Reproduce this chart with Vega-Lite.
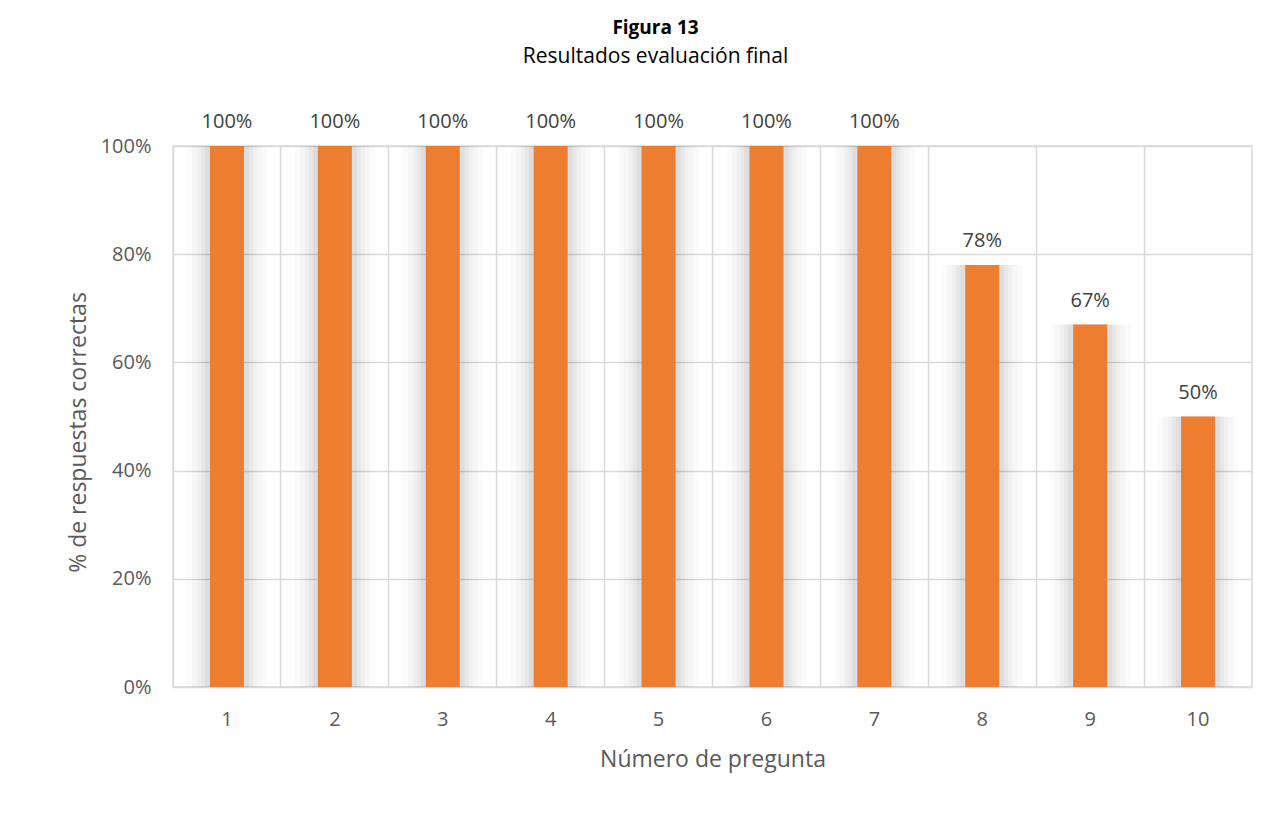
{
  "$schema": "https://vega.github.io/schema/vega-lite/v6.json",
  "width": 1079,
  "height": 541,
  "autosize": {"type": "none"},
  "padding": {"left": 173, "top": 146, "right": 21, "bottom": 135},
  "background": "white",
  "title": {
    "text": "Figura 13",
    "subtitle": "Resultados evaluación final",
    "anchor": "middle",
    "dx": -57,
    "offset": 45,
    "font": "Open Sans",
    "fontSize": 19,
    "fontWeight": "bold",
    "color": "#000000",
    "subtitleFont": "Open Sans",
    "subtitleFontSize": 21,
    "subtitleColor": "#000000",
    "subtitlePadding": 8
  },
  "config": {
    "view": {"stroke": "#d9d9d9", "strokeWidth": 1.5},
    "axis": {
      "labelFont": "Open Sans",
      "titleFont": "Open Sans",
      "labelColor": "#595959",
      "titleColor": "#595959",
      "labelFontSize": 20,
      "titleFontSize": 23,
      "titleFontWeight": "normal",
      "gridColor": "#d9d9d9",
      "gridWidth": 1.5,
      "domain": false,
      "ticks": false
    }
  },
  "data": {
    "values": [
      {"pregunta": "1", "valor": 1.0},
      {"pregunta": "2", "valor": 1.0},
      {"pregunta": "3", "valor": 1.0},
      {"pregunta": "4", "valor": 1.0},
      {"pregunta": "5", "valor": 1.0},
      {"pregunta": "6", "valor": 1.0},
      {"pregunta": "7", "valor": 1.0},
      {"pregunta": "8", "valor": 0.78},
      {"pregunta": "9", "valor": 0.67},
      {"pregunta": "10", "valor": 0.5}
    ]
  },
  "encoding": {
    "x": {
      "field": "pregunta",
      "type": "ordinal",
      "sort": null,
      "scale": {"paddingInner": 0, "paddingOuter": 0},
      "axis": {
        "title": "Número de pregunta",
        "labelAngle": 0,
        "labelPadding": 22,
        "titlePadding": 19,
        "grid": true,
        "bandPosition": 0
      }
    },
    "y": {
      "field": "valor",
      "type": "quantitative",
      "scale": {"domain": [0, 1], "nice": false},
      "axis": {
        "title": "% de respuestas correctas",
        "format": ".0%",
        "values": [0, 0.2, 0.4, 0.6, 0.8, 1.0],
        "labelPadding": 22,
        "titlePadding": 10,
        "titleY": 286
      }
    }
  },
  "layer": [
    {"mark": {"type": "bar", "size": 80, "color": "#000000", "opacity": 0.015}},
    {"mark": {"type": "bar", "size": 70, "color": "#000000", "opacity": 0.02}},
    {"mark": {"type": "bar", "size": 60, "color": "#000000", "opacity": 0.025}},
    {"mark": {"type": "bar", "size": 52, "color": "#000000", "opacity": 0.03}},
    {"mark": {"type": "bar", "size": 44, "color": "#000000", "opacity": 0.04}},
    {"mark": {"type": "bar", "size": 34, "color": "#ED7D31"}},
    {
      "mark": {
        "type": "text",
        "baseline": "bottom",
        "dy": -14,
        "font": "Open Sans",
        "fontSize": 20,
        "color": "#404040"
      },
      "encoding": {
        "text": {"field": "valor", "type": "quantitative", "format": ".0%"}
      }
    }
  ]
}
